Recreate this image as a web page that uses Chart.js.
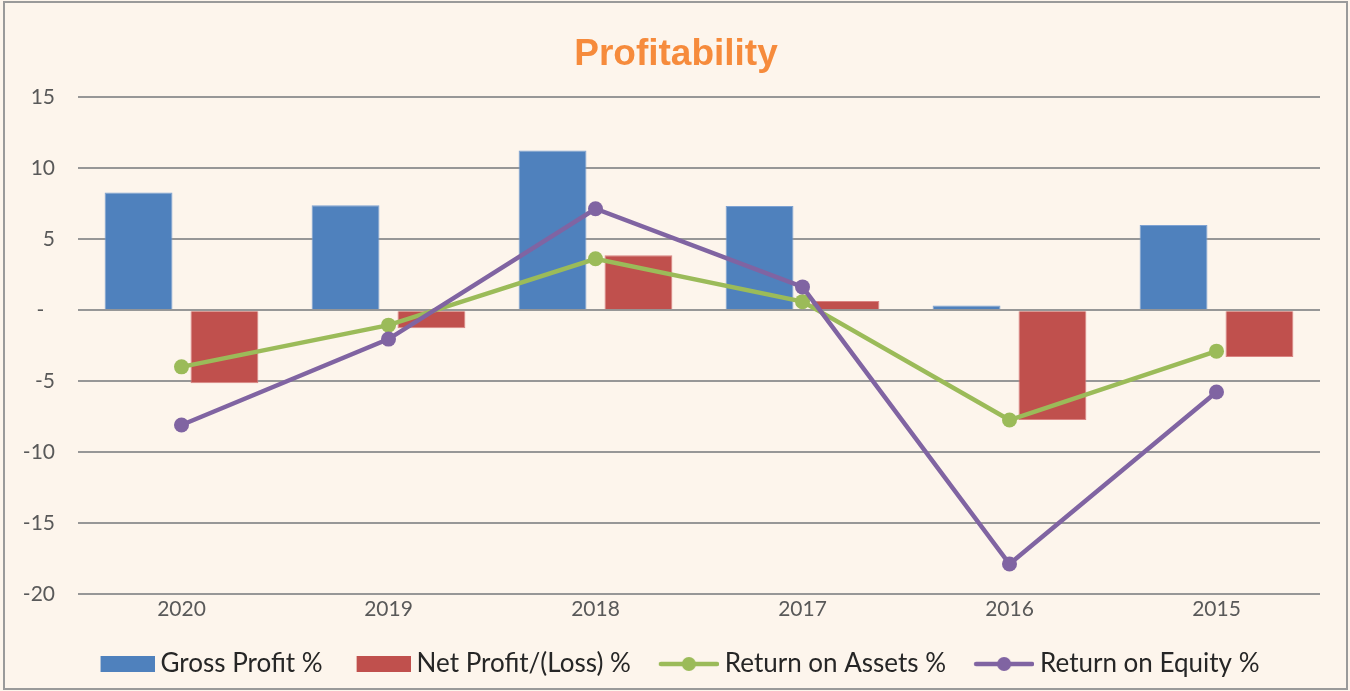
<!DOCTYPE html>
<html>
<head>
<meta charset="utf-8">
<script src="https://cdn.jsdelivr.net/npm/chart.js@4/dist/chart.umd.min.js"></script>
<style>
  html, body { margin: 0; padding: 0; background: #fdf5ec; }
  #wrap { width: 1350px; height: 691px; position: relative; }
</style>
</head>
<body>
<div id="wrap"><canvas id="myChart" width="1350" height="691"></canvas></div>
<script>
// values
const years = ['2020', '2019', '2018', '2017', '2016', '2015'];
const grossProfit = [8.3, 7.4, 11.25, 7.35, 0.33, 6.0];
const netProfit = [-5.15, -1.27, 3.87, 0.65, -7.75, -3.31];
const returnOnAssets = [-4.0, -1.06, 3.62, 0.6, -7.75, -2.89];
const returnOnEquity = [-8.1, -2.04, 7.15, 1.64, -17.9, -5.77];
const yTicks = [15, 10, 5, 0, -5, -10, -15, -20];

const BLUE = '#4f81bd';
const RED = '#c0504d';
const GREEN = '#9bbb59';
const PURPLE = '#8064a2';
const GRID = '#979797';
const MARK_W = 55;

// small images used as legend markers
const legendMark = function (color, isLine) {
  const c = document.createElement('canvas');
  const w = MARK_W + 14;
  c.width = w;
  c.height = 18;
  const g = c.getContext('2d');
  if (isLine) {
    g.strokeStyle = color;
    g.lineWidth = 4.5;
    g.lineCap = 'round';
    g.beginPath();
    g.moveTo(w - 58, 9);
    g.lineTo(w - 2, 9);
    g.stroke();
    g.fillStyle = color;
    g.beginPath();
    g.arc(w - 30, 9, 7, 0, Math.PI * 2);
    g.fill();
  } else {
    g.fillStyle = color;
    g.fillRect(w - 54, 1, 54, 16);
  }
  return c;
};

const background = {
  id: 'background',
  beforeDraw: function (chart) {
    const ctx = chart.ctx;
    ctx.save();
    ctx.fillStyle = '#fdf5ec';
    ctx.fillRect(0, 0, chart.width, chart.height);
    ctx.strokeStyle = '#9a9a9a';
    ctx.lineWidth = 2;
    ctx.strokeRect(4, 2, 1343, 687);
    ctx.restore();
  },
};

const init = function () {
  const ctx = document.getElementById('myChart').getContext('2d');
  new Chart(ctx, {
    type: 'bar',
    data: {
      labels: years,
      datasets: [
        {
          label: 'Gross Profit %',
          data: grossProfit,
          backgroundColor: BLUE,
          borderColor: '#7ea2d2',
          borderWidth: 1,
          order: 2,
          mark: legendMark(BLUE, false),
        },
        {
          label: 'Net Profit/(Loss) %',
          data: netProfit,
          backgroundColor: RED,
          borderColor: '#d98482',
          borderWidth: 1,
          order: 2,
          mark: legendMark(RED, false),
        },
        {
          type: 'line',
          label: 'Return on Assets %',
          data: returnOnAssets,
          borderColor: GREEN,
          backgroundColor: GREEN,
          borderWidth: 4.5,
          pointRadius: 7.5,
          pointBorderWidth: 0,
          order: 1,
          mark: legendMark(GREEN, true),
        },
        {
          type: 'line',
          label: 'Return on Equity %',
          data: returnOnEquity,
          borderColor: PURPLE,
          backgroundColor: PURPLE,
          borderWidth: 4.5,
          pointRadius: 7.5,
          pointBorderWidth: 0,
          order: 0,
          mark: legendMark(PURPLE, true),
        },
      ],
    },
    options: {
      responsive: false,
      animation: false,
      categoryPercentage: 0.83,
      barPercentage: 0.79,
      layout: { padding: { left: 24, right: 22, top: 0, bottom: 4 } },
      plugins: {
        tooltip: { enabled: false },
        title: {
          display: true,
          text: 'Profitability',
          color: '#f68b3c',
          font: { family: '"Liberation Sans", Arial, sans-serif', size: 37, weight: 'bold' },
          padding: { top: 33, bottom: 20 },
        },
        legend: {
          position: 'bottom',
          labels: {
            usePointStyle: true,
            pointStyleWidth: MARK_W,
            padding: 26,
            color: '#262626',
            font: { family: 'Lato, "Open Sans", sans-serif', size: 26 },
            generateLabels: function (chart) {
              return chart.data.datasets.map(function (ds, i) {
                return {
                  text: ds.label,
                  datasetIndex: i,
                  pointStyle: ds.mark,
                  fillStyle: ds.backgroundColor,
                  strokeStyle: ds.backgroundColor,
                  lineWidth: 0,
                  hidden: false,
                  fontColor: '#262626',
                };
              });
            },
          },
        },
      },
      scales: {
        x: {
          grid: { display: false, drawTicks: false },
          border: { display: false },
          ticks: {
            color: '#595959',
            padding: 3,
            font: { family: 'Lato, "Open Sans", sans-serif', size: 21 },
          },
        },
        y: {
          min: -20,
          max: 15,
          afterBuildTicks: function (axis) {
            axis.ticks = yTicks.map(function (v) { return { value: v }; });
          },
          afterFit: function (axis) { axis.width = 54; },
          grid: { color: GRID, lineWidth: 2, drawTicks: false },
          border: { display: false },
          ticks: {
            color: '#595959',
            padding: 23,
            font: { family: 'Lato, "Open Sans", sans-serif', size: 21 },
            callback: function (v) { return v === 0 ? '-  ' : v; },
          },
        },
        // empty right axis, only keeps the plot edge where the picture has it
        yRight: {
          position: 'right',
          min: -20,
          max: 15,
          afterFit: function (axis) { axis.width = 8; },
          grid: { display: false, drawTicks: false },
          border: { display: false },
          ticks: { display: false },
        },
      },
    },
    plugins: [background],
  });
};

document.addEventListener('DOMContentLoaded', init);
</script>
</body>
</html>
